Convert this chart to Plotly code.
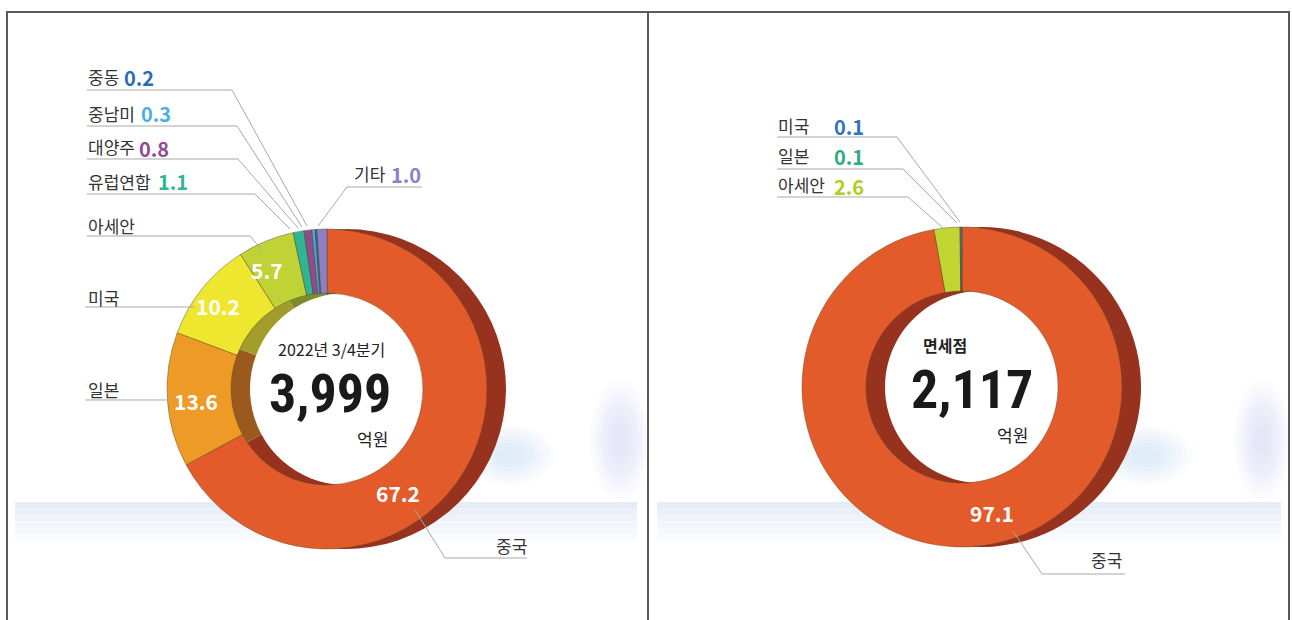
import plotly.graph_objects as go

# data (clockwise from 12 o'clock)
regions_all = ['중국', '일본', '미국', '아세안', '유럽연합', '대양주', '중남미', '중동', '기타']
shares_all = [67.2, 13.6, 10.2, 5.7, 1.1, 0.8, 0.3, 0.2, 1.0]
regions_dfs = ['중국', '아세안', '일본', '미국']
shares_dfs = [97.1, 2.6, 0.1, 0.1]
captions = ['2022년 3/4분기', '면세점']
totals = ['3,999', '2,117']
unit = '억원'

W, H = 1292, 620

face_all = ['#E35B2A', '#EE9A26', '#EEE62F', '#BFD236', '#2FB593', '#8E4B8E', '#4AAEE2', '#2A6BB5', '#8C80C6']
side_all = ['#96321E', '#9B5A1D', '#A29C2A', '#7E8B2B', '#1E7A62', '#5E2F5E', '#2F7AA0', '#1B4A80', '#5E5690']
face_dfs = ['#E35B2A', '#C2D633', '#2FA887', '#2E74BE']
side_dfs = ['#96321E', '#7E8B2B', '#1E7A62', '#1B4A80']
color_of = dict(zip(regions_all, face_all))
color_dfs = {'미국': '#2E74BE', '일본': '#2FA887', '아세안': '#B3CC1E'}

KR = 'Noto Sans CJK KR'
GRAY = '#333333'
LINE = '#A8A8A8'


def px(x):
    return x / W


def py(y):
    return 1 - y / H


def dom(cx, cy, r):
    return dict(x=[px(cx - r), px(cx + r)], y=[py(cy + r), py(cy - r)])


fig = go.Figure()

R = 160
HOLE = 0.6
DEPTH = 19
centers = [(327, 389), (962, 387)]
sets = [(regions_all, shares_all, face_all, side_all), (regions_dfs, shares_dfs, face_dfs, side_dfs)]

for (cx, cy), (labs, vals, face, side) in zip(centers, sets):
    # side wall of the extruded ring
    fig.add_trace(go.Pie(labels=labs, values=vals, sort=False, direction='clockwise', rotation=0,
                         hole=HOLE, domain=dom(cx + DEPTH, cy, R), textinfo='none', hoverinfo='skip',
                         marker=dict(colors=side, line=dict(width=0)), showlegend=False))
    fig.add_trace(go.Pie(labels=labs, values=vals, sort=False, direction='clockwise', rotation=0,
                         hole=HOLE, domain=dom(cx, cy, R), textinfo='none',
                         marker=dict(colors=face, line=dict(width=1, color='rgba(90,70,40,0.45)')),
                         showlegend=False))

shapes = []

# table border
for x0, y0, x1, y1 in [(6, 12, 1290, 12), (7, 12, 7, 620), (648, 12, 648, 620), (1289, 12, 1289, 620)]:
    shapes.append(dict(type='line', xref='paper', yref='paper', x0=px(x0), y0=py(y0), x1=px(x1), y1=py(y1),
                       line=dict(color='#5A5A5A', width=2)))

# pale floor band and soft clouds
band_cols = ['#E6ECF6', '#EAEFF8', '#EEF2F9', '#F2F5FB', '#F6F8FC', '#FAFBFE']
for xa, xb in [(15, 637), (657, 1281)]:
    for i, c in enumerate(band_cols):
        y0 = 502 + i * 6.5
        shapes.append(dict(type='rect', xref='paper', yref='paper', layer='below',
                           x0=px(xa), x1=px(xb), y0=py(y0 + 6.5), y1=py(y0), fillcolor=c, line=dict(width=0)))
clouds = [(510, 455, 45, 30, '190,214,240'), (620, 440, 30, 60, '196,200,238'),
          (1145, 455, 48, 30, '190,214,240'), (1262, 440, 28, 60, '196,200,238')]
for bx, by, rx, ry, rgb in clouds:
    for k in range(7):
        f = 1 - k * 0.12
        shapes.append(dict(type='circle', xref='paper', yref='paper', layer='below',
                           x0=px(bx - rx * f), x1=px(bx + rx * f), y0=py(by + ry * f), y1=py(by - ry * f),
                           fillcolor=f'rgba({rgb},0.07)', line=dict(width=0)))

# leader lines (pixel polylines)
leaders = [
    [(87, 90), (232, 90), (307, 226)],
    [(87, 126), (237, 126), (302, 227)],
    [(87, 159), (238, 159), (298, 228)],
    [(87, 194), (255, 194), (290, 229)],
    [(87, 236), (250, 236), (262, 250)],
    [(85, 307), (195, 307)],
    [(85, 400), (173, 400)],
    [(422, 187), (347, 187), (318, 226)],
    [(527, 558), (445, 558), (415, 510)],
    [(777, 137), (897, 137), (960, 222)],
    [(777, 169), (903, 169), (957, 223)],
    [(777, 197), (908, 197), (943, 228)],
    [(1125, 574), (1042, 574), (1013, 531)],
]
for pts in leaders:
    path = 'M ' + ' L '.join(f'{px(x):.5f},{py(y):.5f}' for x, y in pts)
    shapes.append(dict(type='path', xref='paper', yref='paper', path=path, line=dict(color=LINE, width=1)))

ann = []


def note(x, y, text, size=17, color=GRAY, weight='normal', anchor='left', family=KR, yanchor='middle'):
    ann.append(dict(x=px(x), y=py(y), xref='paper', yref='paper', text=text, showarrow=False,
                    xanchor=anchor, yanchor=yanchor, borderpad=0,
                    font=dict(family=family, size=size, color=color, weight=weight)))


share1 = dict(zip(regions_all, shares_all))
share2 = dict(zip(regions_dfs, shares_dfs))

# left panel outside labels
for name, y, vx in [('중동', 77, 123), ('중남미', 113, 140), ('대양주', 147, 138), ('유럽연합', 181, 157)]:
    note(87, y, name)
    note(vx, y + 1, f'{share1[name]:.1f}', size=20, color=color_of[name], weight='bold')
note(353, 173, '기타')
note(390, 174, f"{share1['기타']:.1f}", size=20, color=color_of['기타'], weight='bold')
for name, y in [('아세안', 225), ('미국', 297), ('일본', 389)]:
    note(87, y, name)
note(495, 545, '중국')

# left panel inside values
for name, x, y in [('중국', 398, 493), ('일본', 196, 401), ('미국', 218, 306), ('아세안', 267, 270)]:
    note(x, y, f'{share1[name]:.1f}', size=21, color='white', weight='bold', anchor='center')

# right panel
for name, y in [('미국', 125), ('일본', 156), ('아세안', 185)]:
    note(777, y, name)
    note(833, y + 1, f'{share2[name]:.1f}', size=20, color=color_dfs[name], weight='bold')
note(1090, 559, '중국')
note(992, 513, f"{share2['중국']:.1f}", size=21, color='white', weight='bold', anchor='center')

# centre totals
BIG = 'Liberation Sans Narrow, Roboto Condensed, Noto Sans CJK KR'
note(331, 362, captions[0], size=16, color='#222', anchor='center', yanchor='bottom')
note(330, 393, totals[0], size=54, color='#1A1A1A', weight='bold', anchor='center', family=BIG)
note(372, 425, unit, size=17, color='#222', anchor='center', yanchor='top')
note(945, 358, captions[1], size=16, color='#222', weight='bold', anchor='center', yanchor='bottom')
note(972, 389, totals[1], size=54, color='#1A1A1A', weight='bold', anchor='center', family=BIG)
note(1012, 421, unit, size=17, color='#222', anchor='center', yanchor='top')

fig.update_layout(width=W, height=H, margin=dict(l=0, r=0, t=0, b=0),
                  paper_bgcolor='white', plot_bgcolor='white',
                  shapes=shapes, annotations=ann, showlegend=False)

fig.write_html('out.html', config={'displayModeBar': False},
               post_script="document.body.style.margin='0';")
